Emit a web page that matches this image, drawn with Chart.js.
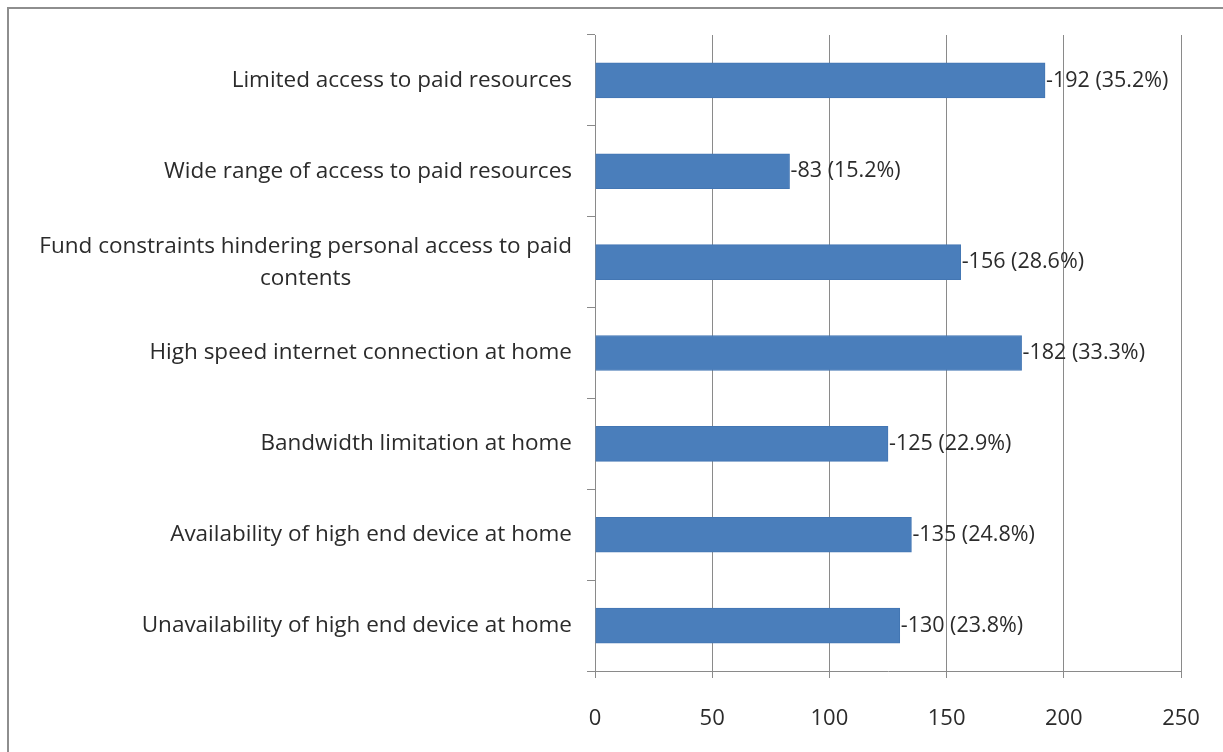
<!DOCTYPE html>
<html>
<head>
<meta charset="utf-8">
<script src="https://cdn.jsdelivr.net/npm/chart.js@4.4.0/dist/chart.umd.min.js"></script>
<style>
  html, body { margin: 0; padding: 0; background: #fff; }
  #wrap { position: relative; width: 1223px; height: 752px; overflow: hidden; }
  #frame { position: absolute; left: 7px; top: 7px; width: 1300px; height: 800px;
           border-left: 2px solid #8e8e8e; border-top: 2px solid #8e8e8e; }
  canvas { position: absolute; left: 0; top: 0; }
</style>
</head>
<body>
<div id="wrap">
  <div id="frame"></div>
  <canvas id="barChart" width="1223" height="752"></canvas>
</div>
<script>
const categories = [
  ["Limited access to paid resources"],
  ["Wide range of access to paid resources"],
  ["Fund constraints hindering personal access to paid", "contents"],
  ["High speed internet connection at home"],
  ["Bandwidth limitation at home"],
  ["Availability of high end device at home"],
  ["Unavailability of high end device at home"]
];
const counts = [192, 83, 156, 182, 125, 135, 130];
const percents = [35.2, 15.2, 28.6, 33.3, 22.9, 24.8, 23.8];
const xTicks = [0, 50, 100, 150, 200, 250];

const FONT = "'Open Sans', 'Noto Sans', sans-serif";
const LABEL_SIZE = 22.5;
const VALUE_SIZE = 21.5;
const TICK_SIZE = 22;
const TEXT_COLOR = "#2b2b2b";
const GRID_COLOR = "#8a8a8a";

// category labels: block right-aligned, lines centered inside the block (like Excel)
const categoryLabels = {
  id: "categoryLabels",
  afterDraw(chart) {
    const ctx = chart.ctx;
    const y = chart.scales.y;
    const right = y.right - 23;
    ctx.save();
    ctx.font = LABEL_SIZE + "px " + FONT;
    ctx.fillStyle = TEXT_COLOR;
    ctx.textBaseline = "middle";
    ctx.textAlign = "center";
    categories.forEach((lines, i) => {
      const cy = y.getPixelForValue(i);
      const w = Math.max(...lines.map(l => ctx.measureText(l).width));
      const cx = right - w / 2;
      const lh = 32;
      const top = cy - (lines.length - 1) * lh / 2;
      lines.forEach((l, k) => ctx.fillText(l, cx, top + k * lh));
    });
    ctx.restore();
  }
};

// value labels to the right of each bar: "-192 (35.2%)"
const valueLabels = {
  id: "valueLabels",
  afterDatasetsDraw(chart) {
    const ctx = chart.ctx;
    const meta = chart.getDatasetMeta(0);
    ctx.save();
    ctx.font = VALUE_SIZE + "px " + FONT;
    ctx.fillStyle = TEXT_COLOR;
    ctx.textBaseline = "middle";
    ctx.textAlign = "left";
    meta.data.forEach((bar, i) => {
      ctx.fillText("-" + counts[i] + " (" + percents[i].toFixed(1) + "%)", bar.x + 1, bar.y);
    });
    ctx.restore();
  }
};

new Chart(document.getElementById("barChart").getContext("2d"), {
  type: "bar",
  data: {
    labels: categories.map(c => c.join(" ")),
    datasets: [{
      data: counts,
      backgroundColor: "#4a7ebb",
      borderColor: "#4376b3",
      borderWidth: 1,
      barThickness: 35
    }]
  },
  options: {
    indexAxis: "y",
    responsive: false,
    animation: false,
    layout: { padding: { top: 35, right: 42, left: 0, bottom: 0 } },
    plugins: { legend: { display: false }, tooltip: { enabled: false } },
    scales: {
      x: {
        min: 0,
        max: 250,
        afterBuildTicks: scale => { scale.ticks = xTicks.map(v => ({ value: v })); },
        afterFit: scale => {
          scale.height = 81;
          scale.paddingLeft = 0;
          scale.paddingRight = 0;
        },
        grid: { color: GRID_COLOR, lineWidth: 1, tickLength: 7 },
        border: { color: GRID_COLOR, width: 1 },
        ticks: { color: TEXT_COLOR, font: { family: FONT, size: TICK_SIZE }, padding: 28, maxRotation: 0 }
      },
      y: {
        afterFit: scale => { scale.width = 595; },
        grid: { offset: true, drawOnChartArea: false, color: GRID_COLOR, tickLength: 8 },
        border: { color: GRID_COLOR, width: 1 },
        ticks: { display: false }
      }
    }
  },
  plugins: [categoryLabels, valueLabels]
});
</script>
</body>
</html>
